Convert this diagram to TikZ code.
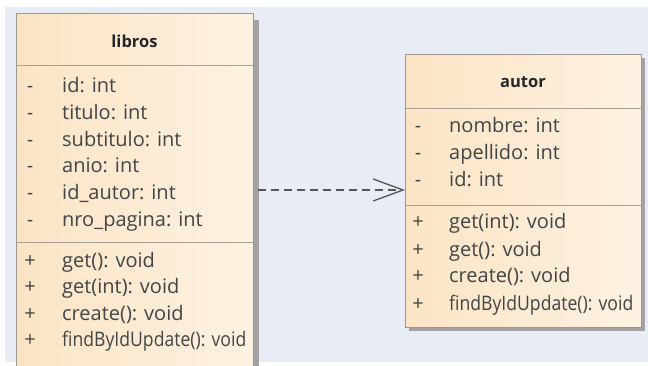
\documentclass[tikz,border=0pt]{standalone}
\usepackage{fontspec}
\setmainfont{Open Sans}
\usetikzlibrary{arrows.meta}
\definecolor{bgblue}{HTML}{E8ECF5}
\definecolor{peachL}{HTML}{FBE4C4}
\definecolor{peachR}{HTML}{FDF2E2}
\definecolor{boxline}{HTML}{9C968E}
\definecolor{sepline}{HTML}{A89E92}
\definecolor{shadowc}{HTML}{A3A3A6}
\definecolor{txt}{HTML}{444444}
\definecolor{arrowc}{HTML}{555555}
\tikzset{
  classbox/.style={draw=boxline, line width=0.8pt, left color=peachL, right color=peachR, inner sep=0pt, anchor=north west},
  shadowbox/.style={fill=shadowc, draw=none, inner sep=0pt, anchor=north west},
  sep/.style={draw=sepline, line width=0.8pt},
  member/.style={anchor=base west, inner sep=0pt, text=txt, font=\fontsize{20}{22}\selectfont},
  narrow/.style={xscale=0.88},
  vis/.style={anchor=base, inner sep=0pt, text=txt, font=\fontsize{20}{22}\selectfont},
  title/.style={anchor=base, inner sep=0pt, text=black!85, font=\fontsize{16.5}{18}\selectfont\bfseries},
  dep/.style={draw=arrowc, line width=1.3pt, dash pattern=on 8pt off 5pt, -{Straight Barb[length=30pt, width=22pt, line width=1.3pt]}}
}
\begin{document}
\begin{tikzpicture}[x=1pt,y=-1pt]
\useasboundingbox (0,0) rectangle (648,366);
\fill[white] (0,0) rectangle (648,366);
\fill[bgblue] (5,7) rectangle (648,362);

% libros
\node[shadowbox, minimum width=6pt, minimum height=360pt] (libshadow) at (253,20) {};
\node[classbox, minimum width=237pt, minimum height=370pt] (libros) at (16,13) {};
\node[title] (libtitle) at (134.5,48) {libros};
\draw[sep] (16,65) coordinate (ls1a) -- (253,65) coordinate (ls1b);
\node[vis] (lv1) at (30,93) {-};
\node[member] (la1) at (62,93) {id: int};
\node[vis] (lv2) at (30,119.6) {-};
\node[member] (la2) at (62,119.6) {titulo: int};
\node[vis] (lv3) at (30,146.2) {-};
\node[member] (la3) at (62,146.2) {subtitulo: int};
\node[vis] (lv4) at (30,172.8) {-};
\node[member] (la4) at (62,172.8) {anio: int};
\node[vis] (lv5) at (30,199.4) {-};
\node[member] (la5) at (62,199.4) {id\_autor: int};
\node[vis] (lv6) at (30,226) {-};
\node[member] (la6) at (62,226) {nro\_pagina: int};
\draw[sep] (16,242) coordinate (ls2a) -- (253,242) coordinate (ls2b);
\node[vis] (lm1v) at (30,267) {+};
\node[member] (lm1) at (62,267) {get(): void};
\node[vis] (lm2v) at (30,293.6) {+};
\node[member] (lm2) at (62,293.6) {get(int): void};
\node[vis] (lm3v) at (30,320.2) {+};
\node[member] (lm3) at (62,320.2) {create(): void};
\node[vis] (lm4v) at (30,346.8) {+};
\node[member, narrow] (lm4) at (62,346.8) {findByIdUpdate(): void};

% autor
\node[shadowbox, minimum width=236pt, minimum height=273pt] (autshadow) at (409,58) {};
\node[classbox, minimum width=236pt, minimum height=273pt] (autor) at (405,54) {};
\node[title] (auttitle) at (523,88) {autor};
\draw[sep] (405,108) coordinate (as1a) -- (641,108) coordinate (as1b);
\node[vis] (av1) at (418,133) {-};
\node[member] (aa1) at (449,133) {nombre: int};
\node[vis] (av2) at (418,160) {-};
\node[member] (aa2) at (449,160) {apellido: int};
\node[vis] (av3) at (418,187) {-};
\node[member] (aa3) at (449,187) {id: int};
\draw[sep] (405,205) coordinate (as2a) -- (641,205) coordinate (as2b);
\node[vis] (am1v) at (418,229) {+};
\node[member] (am1) at (449,229) {get(int): void};
\node[vis] (am2v) at (418,256) {+};
\node[member] (am2) at (449,256) {get(): void};
\node[vis] (am3v) at (418,283) {+};
\node[member] (am3) at (449,283) {create(): void};
\node[vis] (am4v) at (418,310) {+};
\node[member, narrow] (am4) at (449,310) {findByIdUpdate(): void};

% dependency
\coordinate (depstart) at (258,190);
\draw[dep] (depstart) -- (autor.west |- depstart);
\end{tikzpicture}
\end{document}
